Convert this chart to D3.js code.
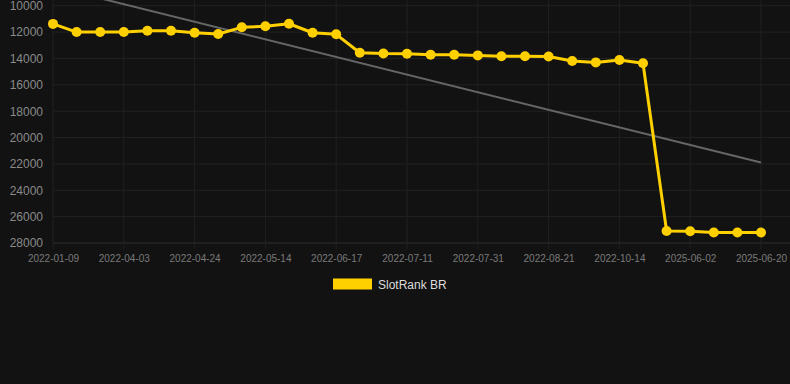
<!DOCTYPE html>
<html><head><meta charset="utf-8">
<script src="https://cdn.jsdelivr.net/npm/d3@7"></script>
<style>
html,body{margin:0;padding:0;background:#121212;}
svg{display:block;}
</style></head>
<body>
<svg id="chart" width="790" height="384"></svg>
<script>
const categories = ["2022-01-09","2022-03-13","2022-03-20","2022-04-03","2022-04-10","2022-04-17","2022-04-24","2022-04-30","2022-05-07","2022-05-14","2022-05-21","2022-06-04","2022-06-17","2022-06-24","2022-07-02","2022-07-11","2022-07-17","2022-07-24","2022-07-31","2022-08-07","2022-08-14","2022-08-21","2022-09-04","2022-09-25","2022-10-14","2022-10-28","2025-05-20","2025-06-02","2025-06-08","2025-06-14","2025-06-20"];
const tickLabels = ["2022-01-09","2022-04-03","2022-04-24","2022-05-14","2022-06-17","2022-07-11","2022-07-31","2022-08-21","2022-10-14","2025-06-02","2025-06-20"];
const rankValues = [11380,12000,12000,12000,11900,11900,12050,12150,11640,11560,11370,12050,12170,13570,13630,13650,13720,13720,13770,13840,13840,13860,14200,14300,14120,14370,27090,27110,27210,27210,27210];
const trendValues = [8550, 21900];
const yTicks = [10000,12000,14000,16000,18000,20000,22000,24000,26000,28000];
const seriesName = "SlotRank BR";

const svg = d3.select("#chart");
const plotLeft = 53, plotRight = 761, gridRight = 790, plotTop = 5.7, plotBottom = 243;

const x = d3.scalePoint().domain(categories).range([plotLeft, plotRight]);
const y = d3.scaleLinear().domain([10000, 28000]).range([plotTop, plotBottom]);

const grid = svg.append("g");
grid.selectAll("line.h").data(yTicks).enter().append("line")
  .attr("x1", plotLeft).attr("x2", gridRight)
  .attr("y1", d => y(d)).attr("y2", d => y(d))
  .attr("stroke", d => d === 28000 ? "#2e2e2e" : "#222").attr("stroke-width", 1);
grid.selectAll("line.v").data(tickLabels).enter().append("line")
  .attr("x1", d => x(d)).attr("x2", d => x(d))
  .attr("y1", 0).attr("y2", plotBottom + 6)
  .attr("stroke", "#202020").attr("stroke-width", 1);

const yAxis = d3.axisLeft(y).tickValues(yTicks).tickSize(0).tickPadding(0).tickFormat(d3.format("d"));
const yg = svg.append("g").attr("transform", "translate(43,0)").call(yAxis);
yg.select(".domain").remove();
yg.selectAll("text").attr("fill", "#8a8a8a").attr("font-family", "Liberation Sans, Arial, sans-serif").attr("font-size", 12);

const xAxis = d3.axisBottom(x).tickValues(tickLabels).tickSize(0).tickPadding(0);
const xg = svg.append("g").attr("transform", `translate(0,${plotBottom + 12})`).call(xAxis);
xg.select(".domain").remove();
xg.selectAll("text").attr("fill", "#7a7a7a").attr("font-family", "Liberation Sans, Arial, sans-serif").attr("font-size", 10).attr("dy", "0.71em");

svg.append("line")
  .attr("x1", x(categories[0])).attr("y1", y(trendValues[0]))
  .attr("x2", x(categories[categories.length - 1])).attr("y2", y(trendValues[1]))
  .attr("stroke", "#666").attr("stroke-width", 2);

const data = categories.map((c, i) => ({c, v: rankValues[i]}));
svg.append("path").datum(data)
  .attr("fill", "none").attr("stroke", "#FFD000").attr("stroke-width", 3)
  .attr("stroke-linejoin", "round")
  .attr("d", d3.line().x(d => x(d.c)).y(d => y(d.v)));
svg.selectAll("circle.pt").data(data).enter().append("circle")
  .attr("cx", d => x(d.c)).attr("cy", d => y(d.v)).attr("r", 5)
  .attr("fill", "#FFD000");

const lg = svg.append("g");
lg.append("rect").attr("x", 333).attr("y", 278.5).attr("width", 39).attr("height", 11).attr("fill", "#FFD000");
lg.append("text").attr("x", 378).attr("y", 288.5).text(seriesName)
  .attr("fill", "#dcdcdc").attr("font-family", "Liberation Sans, Arial, sans-serif").attr("font-size", 12);
</script>
</body></html>
